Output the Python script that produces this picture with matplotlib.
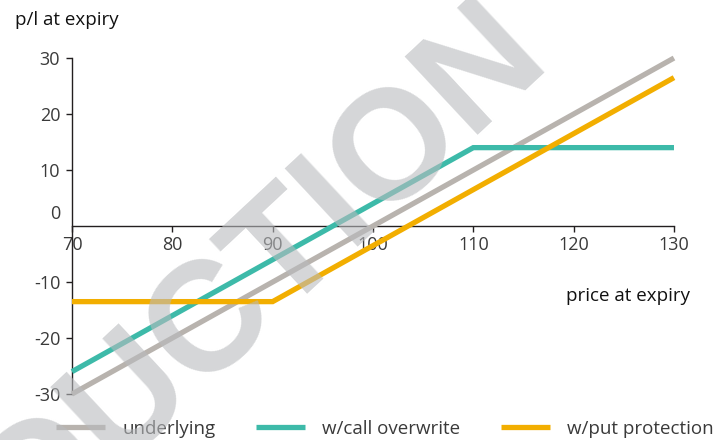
import matplotlib
matplotlib.use("Agg")
import matplotlib.pyplot as plt
import matplotlib.transforms as mtransforms
from matplotlib.lines import Line2D

plt.rcParams['font.family'] = ['Open Sans', 'DejaVu Sans']

# data
price = [70, 80, 90, 100, 110, 120, 130]
underlying = [-30, -20, -10, 0, 10, 20, 30]
call_overwrite = [-26, -16, -6, 4, 14, 14, 14]
put_protection = [-13.5, -13.5, -13.5, -3.5, 6.5, 16.5, 26.5]
series_names = ['underlying', 'w/call overwrite', 'w/put protection']
colors = ['#b8b3ae', '#3dbaa9', '#f2ae00']
xticks = [70, 80, 90, 100, 110, 120, 130]
yticks = [-30, -20, -10, 0, 10, 20, 30]
ytick_labels = ['-30', '-20', '-10', '0', '10', '20', '30']

fig = plt.figure(figsize=(7.22, 4.40), dpi=100)
ax = fig.add_axes([0.0997, 0.1045, 0.8338, 0.7636])

lw = 3.8
for ys, c in zip([underlying, call_overwrite, put_protection], colors):
    ax.plot(price, ys, color=c, lw=lw, solid_capstyle='butt', solid_joinstyle='miter', clip_on=False, zorder=3)

ax.set_xlim(70, 130)
ax.set_ylim(-30, 30)
ax.spines['top'].set_visible(False)
ax.spines['right'].set_visible(False)
ax.spines['bottom'].set_position(('data', 0))
for s in ['left', 'bottom']:
    ax.spines[s].set_linewidth(1.0)
    ax.spines[s].set_color('#231f20')

ax.set_xticks(xticks)
ax.set_xticklabels([str(v) for v in xticks])
ax.set_yticks(yticks)
ax.set_yticklabels(ytick_labels)
ax.tick_params(axis='x', direction='out', length=4.5, width=1.0, pad=3, labelsize=13, colors='#231f20', labelcolor='#3a3a3a')
ax.tick_params(axis='y', direction='out', length=4.5, width=1.0, pad=4, labelsize=13, colors='#231f20', labelcolor='#3a3a3a')

# shift the 0 label upward
for t in ax.yaxis.get_major_ticks():
    if t.get_loc() == 0:
        t.tick1line.set_visible(False)
        t.label1.set_transform(t.label1.get_transform() + mtransforms.ScaledTranslation(0, 10/72, fig.dpi_scale_trans))

fig.text(15/722, 1 - 20/440, 'p/l at expiry', ha='left', va='center', fontsize=13.5, color='#111111')
fig.text(690/722, 1 - 296/440, 'price at expiry', ha='right', va='center', fontsize=13.5, color='#111111')

handles = [Line2D([0], [0], color=c, lw=lw, solid_capstyle='butt') for c in colors]
leg = fig.legend(handles, series_names, loc='center', bbox_to_anchor=(385/722, 1 - 429/440), ncol=3,
                 frameon=False, fontsize=13.5, handlelength=2.6, handletextpad=0.9, columnspacing=2.2,
                 labelcolor='#3a3a3a')

# watermark
fig.text(550/722, 1 - 58/440, 'REPRODUCTION', rotation=43, rotation_mode='anchor', ha='right', va='baseline',
         fontsize=112, fontweight='bold', family=['Liberation Sans', 'DejaVu Sans'],
         color='#b9bbbe', alpha=0.6, zorder=10)

fig.savefig('out.png', dpi=100)
